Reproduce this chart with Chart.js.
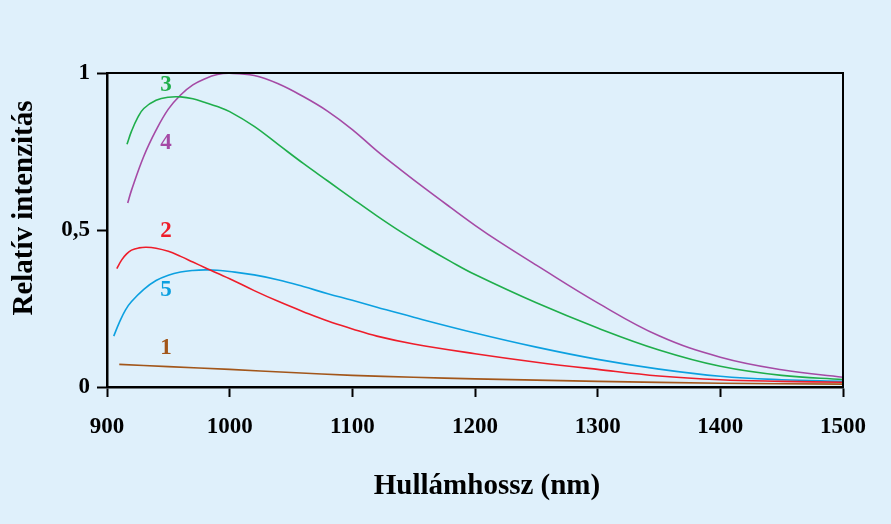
<!DOCTYPE html>
<html>
<head>
<meta charset="utf-8">
<script src="https://cdn.jsdelivr.net/npm/chart.js@4.4.0/dist/chart.umd.min.js"></script>
<style>
  html, body { margin: 0; padding: 0; background: #dff0fb; }
  #wrap { width: 891px; height: 524px; }
</style>
</head>
<body>
<div id="wrap"><canvas id="chart" width="891" height="524"></canvas></div>
<script>
// Görbék (hullámhossz nm, relatív intenzitás), leolvasva
const curve1X = [910, 950, 1000, 1050, 1100, 1150, 1200, 1300, 1400, 1500];
const curve1Y = [0.072, 0.065, 0.056, 0.046, 0.037, 0.031, 0.026, 0.018, 0.012, 0.009];

const curve2X = [908, 912, 916, 920, 926, 932, 940, 950, 960, 970, 980, 990, 1000, 1020, 1040, 1060, 1080, 1100, 1120, 1150, 1200, 1250, 1300, 1350, 1400, 1450, 1500];
const curve2Y = [0.377, 0.405, 0.424, 0.436, 0.443, 0.445, 0.442, 0.432, 0.416, 0.398, 0.380, 0.362, 0.345, 0.307, 0.272, 0.240, 0.210, 0.185, 0.162, 0.137, 0.106, 0.079, 0.056, 0.035, 0.023, 0.018, 0.015];

const curve3X = [916.3, 920, 925, 930, 940, 950, 960, 970, 980, 990, 1000, 1020, 1040, 1060, 1080, 1100, 1120, 1140, 1160, 1180, 1200, 1250, 1300, 1350, 1400, 1450, 1500];
const curve3Y = [0.773, 0.815, 0.858, 0.887, 0.913, 0.923, 0.924, 0.918, 0.906, 0.893, 0.877, 0.830, 0.771, 0.712, 0.656, 0.600, 0.545, 0.493, 0.445, 0.400, 0.358, 0.268, 0.188, 0.118, 0.066, 0.037, 0.024];

const curve4X = [916.9, 920, 930, 940, 950, 960, 970, 980, 990, 1000, 1020, 1040, 1060, 1080, 1100, 1120, 1140, 1160, 1180, 1200, 1220, 1250, 1300, 1350, 1400, 1450, 1500];
const curve4Y = [0.586, 0.627, 0.735, 0.818, 0.885, 0.930, 0.962, 0.982, 0.995, 0.999, 0.992, 0.965, 0.925, 0.878, 0.820, 0.752, 0.690, 0.630, 0.572, 0.515, 0.462, 0.388, 0.268, 0.163, 0.095, 0.055, 0.031];

const curve5X = [905.5, 910, 915, 920, 930, 940, 950, 960, 970, 980, 990, 1000, 1020, 1040, 1060, 1080, 1100, 1120, 1150, 1200, 1250, 1300, 1350, 1400, 1450, 1500];
const curve5Y = [0.162, 0.205, 0.245, 0.272, 0.311, 0.339, 0.356, 0.366, 0.371, 0.373, 0.372, 0.368, 0.357, 0.341, 0.320, 0.297, 0.276, 0.254, 0.222, 0.172, 0.127, 0.088, 0.057, 0.034, 0.023, 0.018];

const curveNames = ["1", "2", "3", "4", "5"];
const curveColors = ["#a2561a", "#ee1d2a", "#1fae4b", "#a54aa5", "#0ca0e0"];

// Számok helye a görbék mellett
const labelX = [948, 948, 948, 948, 948];
const labelY = [0.125, 0.497, 0.963, 0.777, 0.308];

const xTicks = [900, 1000, 1100, 1200, 1300, 1400, 1500];
const yTicks = [0, 0.5, 1];

const xTitle = "Hullámhossz (nm)";
const yTitle = "Relatív intenzitás";

const FONT = "'Liberation Serif', 'Times New Roman', serif";

const allX = [curve1X, curve2X, curve3X, curve4X, curve5X];
const allY = [curve1Y, curve2Y, curve3Y, curve4Y, curve5Y];

const datasets = allX.map((xs, i) => ({
  label: curveNames[i],
  data: xs.map((x, j) => ({ x: x, y: allY[i][j] })),
  borderColor: curveColors[i],
  borderWidth: 1.6,
  pointRadius: 0,
  tension: 0.4,
  fill: false
}));

// Keret felül és jobbra, görbék számai, tengelyfeliratok
const decorPlugin = {
  id: "decor",
  afterDatasetsDraw(chart) {
    const { ctx, chartArea: a, scales } = chart;
    ctx.save();
    ctx.strokeStyle = "#000";
    ctx.lineWidth = 2;
    ctx.beginPath();
    ctx.moveTo(a.left, a.top);
    ctx.lineTo(a.right, a.top);
    ctx.lineTo(a.right, a.bottom);
    ctx.stroke();

    ctx.font = "bold 23px " + FONT;
    ctx.textAlign = "center";
    ctx.textBaseline = "middle";
    curveNames.forEach((n, i) => {
      ctx.fillStyle = curveColors[i];
      ctx.fillText(n, scales.x.getPixelForValue(labelX[i]), scales.y.getPixelForValue(labelY[i]));
    });

    ctx.fillStyle = "#000";
    ctx.font = "bold 29px " + FONT;
    ctx.fillText(xTitle, 487, 487);
    ctx.translate(25, 208);
    ctx.rotate(-Math.PI / 2);
    ctx.fillText(yTitle, 0, 0);
    ctx.restore();
  }
};

new Chart(document.getElementById("chart"), {
  type: "line",
  data: { datasets },
  options: {
    responsive: false,
    animation: false,
    layout: { padding: { top: 73, right: 48, left: 0, bottom: 0 } },
    plugins: { legend: { display: false }, tooltip: { enabled: false } },
    scales: {
      x: {
        type: "linear",
        min: 900,
        max: 1500,
        afterFit: s => { s.height = 137; },
        afterBuildTicks: s => { s.ticks = xTicks.map(v => ({ value: v })); },
        border: { display: true, color: "#000", width: 2.5 },
        grid: { drawOnChartArea: false, drawTicks: true, tickLength: 10, tickWidth: 2, tickColor: "#000" },
        ticks: {
          color: "#000",
          padding: 16,
          maxRotation: 0,
          font: { family: FONT, size: 23, weight: "bold" },
          callback: v => String(v)
        }
      },
      y: {
        min: 0,
        max: 1,
        afterFit: s => { s.width = 107; },
        afterBuildTicks: s => { s.ticks = yTicks.map(v => ({ value: v })); },
        border: { display: true, color: "#000", width: 2.5 },
        grid: { drawOnChartArea: false, drawTicks: true, tickLength: 10, tickWidth: 2, tickColor: "#000" },
        ticks: {
          color: "#000",
          padding: 7,
          font: { family: FONT, size: 23, weight: "bold" },
          callback: v => String(v).replace(".", ",")
        }
      }
    }
  },
  plugins: [decorPlugin]
});
</script>
</body>
</html>
